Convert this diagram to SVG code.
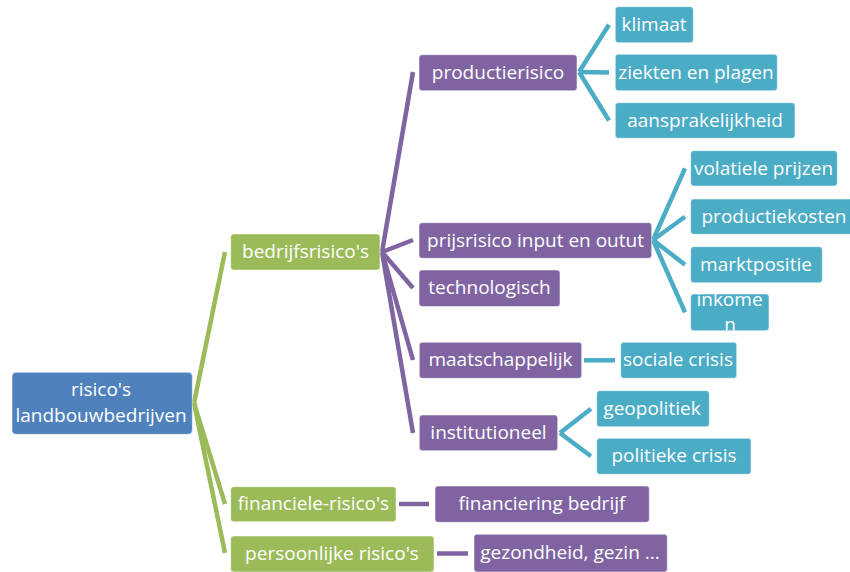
<svg xmlns="http://www.w3.org/2000/svg" width="850" height="572" viewBox="0 0 850 572">
  <style>
    .box { stroke: #ffffff; stroke-opacity: 0.5; stroke-width: 1; }
    .root { fill: #4F81BD; }
    .l1 { fill: #9BBB59; }
    .l2 { fill: #8064A2; }
    .l3 { fill: #4BACC6; }
    text { font-family: "Open Sans", "Noto Sans", "DejaVu Sans", sans-serif; font-size: 19px; fill: #ffffff; text-anchor: middle; }
    .c-green { stroke: #9BBB59; stroke-width: 4.5; fill: none; }
    .c-purple { stroke: #8064A2; stroke-width: 4.5; fill: none; }
    .c-cyan { stroke: #4BACC6; stroke-width: 4.5; fill: none; }
  </style>
  <defs>
    <clipPath id="clip-inkomen">
      <rect x="691" y="294" width="78" height="36.7"/>
    </clipPath>
  </defs>
  <rect width="850" height="572" fill="#ffffff"/>

  <!-- connectors -->
  <g id="connectors">
    <!-- root to level 1 -->
    <line class="c-green" x1="194" y1="403" x2="225" y2="252"/>
    <line class="c-green" x1="194" y1="403" x2="225" y2="504"/>
    <line class="c-green" x1="194" y1="403" x2="225" y2="553"/>
    <!-- bedrijfsrisico's to level 2 -->
    <line class="c-purple" x1="382" y1="252" x2="413" y2="72"/>
    <line class="c-purple" x1="382" y1="252" x2="413" y2="240"/>
    <line class="c-purple" x1="382" y1="252" x2="413" y2="288"/>
    <line class="c-purple" x1="382" y1="252" x2="413" y2="360"/>
    <line class="c-purple" x1="382" y1="252" x2="413" y2="433"/>
    <!-- other level 1 -->
    <line class="c-purple" x1="399" y1="504" x2="429" y2="504"/>
    <line class="c-purple" x1="437" y1="553.5" x2="468" y2="553.5"/>
    <!-- productierisico -->
    <line class="c-cyan" x1="579" y1="72" x2="609" y2="24.7"/>
    <line class="c-cyan" x1="579" y1="72" x2="609" y2="72.5"/>
    <line class="c-cyan" x1="579" y1="72" x2="609" y2="120.5"/>
    <!-- prijsrisico -->
    <line class="c-cyan" x1="653" y1="240" x2="685" y2="168.3"/>
    <line class="c-cyan" x1="653" y1="240" x2="685" y2="216.7"/>
    <line class="c-cyan" x1="653" y1="240" x2="685" y2="264.7"/>
    <line class="c-cyan" x1="653" y1="240" x2="685" y2="312.3"/>
    <!-- maatschappelijk -->
    <line class="c-cyan" x1="584" y1="360.3" x2="615" y2="360.3"/>
    <!-- institutioneel -->
    <line class="c-cyan" x1="560" y1="433" x2="591" y2="408.7"/>
    <line class="c-cyan" x1="560" y1="433" x2="591" y2="456.3"/>
  </g>

  <!-- root -->
  <g id="node-root">
    <rect class="box root" x="12" y="372.3" width="180.3" height="62" rx="4"/>
    <text x="101" y="396">risico's</text>
    <text x="101" y="422.3">landbouwbedrijven</text>
  </g>

  <!-- level 1 -->
  <g id="node-bedrijfsrisicos">
    <rect class="box l1" x="230.7" y="234" width="149.3" height="36" rx="3"/>
    <text x="305.5" y="258">bedrijfsrisico's</text>
  </g>
  <g id="node-financiele-risicos">
    <rect class="box l1" x="230.7" y="486.7" width="165.3" height="35" rx="3"/>
    <text x="313.5" y="510">financiele-risico's</text>
  </g>
  <g id="node-persoonlijke-risicos">
    <rect class="box l1" x="230.7" y="536" width="203.3" height="36" rx="3"/>
    <text x="332" y="559.5">persoonlijke risico's</text>
  </g>

  <!-- level 2 -->
  <g id="node-productierisico">
    <rect class="box l2" x="419" y="54.7" width="158" height="36" rx="3"/>
    <text x="498" y="78.7">productierisico</text>
  </g>
  <g id="node-prijsrisico">
    <rect class="box l2" x="419" y="222.7" width="232.7" height="35.6" rx="3"/>
    <text x="535.5" y="246.5">prijsrisico input en outut</text>
  </g>
  <g id="node-technologisch">
    <rect class="box l2" x="419" y="270" width="141" height="36.5" rx="3"/>
    <text x="489.5" y="294.3">technologisch</text>
  </g>
  <g id="node-maatschappelijk">
    <rect class="box l2" x="419.3" y="342.3" width="162.4" height="36" rx="3"/>
    <text x="500.5" y="366.3">maatschappelijk</text>
  </g>
  <g id="node-institutioneel">
    <rect class="box l2" x="419.3" y="415" width="138.4" height="35.7" rx="3"/>
    <text x="488.5" y="439">institutioneel</text>
  </g>
  <g id="node-financiering-bedrijf">
    <rect class="box l2" x="435" y="486" width="214.3" height="36.3" rx="3"/>
    <text x="542" y="510">financiering bedrijf</text>
  </g>
  <g id="node-gezondheid">
    <rect class="box l2" x="474" y="534.3" width="193.3" height="37.7" rx="3"/>
    <text x="570" y="559">gezondheid, gezin ...</text>
  </g>

  <!-- level 3 -->
  <g id="node-klimaat">
    <rect class="box l3" x="615.3" y="6.7" width="78" height="36" rx="3"/>
    <text x="654" y="30.7">klimaat</text>
  </g>
  <g id="node-ziekten">
    <rect class="box l3" x="615.3" y="54.3" width="162" height="36.4" rx="3"/>
    <text x="696" y="78.5">ziekten en plagen</text>
  </g>
  <g id="node-aansprakelijkheid">
    <rect class="box l3" x="615.3" y="102.7" width="179.7" height="35.6" rx="3"/>
    <text x="705" y="126.7">aansprakelijkheid</text>
  </g>
  <g id="node-volatiele-prijzen">
    <rect class="box l3" x="690.7" y="150.7" width="146.6" height="35.3" rx="3"/>
    <text x="763.5" y="174.5">volatiele prijzen</text>
  </g>
  <g id="node-productiekosten">
    <rect class="box l3" x="690.7" y="199" width="162" height="35.3" rx="3"/>
    <text x="774" y="223">productiekosten</text>
  </g>
  <g id="node-marktpositie">
    <rect class="box l3" x="690.7" y="246.7" width="131.6" height="36" rx="3"/>
    <text x="756" y="270.7">marktpositie</text>
  </g>
  <g id="node-inkomen">
    <rect class="box l3" x="690.7" y="294" width="78.3" height="36.7" rx="3"/>
    <g clip-path="url(#clip-inkomen)">
      <text x="729.5" y="305.7">inkome</text>
      <text x="730" y="330.7">n</text>
    </g>
  </g>
  <g id="node-sociale-crisis">
    <rect class="box l3" x="620.7" y="342.3" width="116" height="36" rx="3"/>
    <text x="678" y="366.3">sociale crisis</text>
  </g>
  <g id="node-geopolitiek">
    <rect class="box l3" x="596.7" y="390.7" width="112.6" height="36" rx="3"/>
    <text x="652" y="414.5">geopolitiek</text>
  </g>
  <g id="node-politieke-crisis">
    <rect class="box l3" x="596.7" y="438.3" width="154.3" height="36" rx="3"/>
    <text x="674" y="462.3">politieke crisis</text>
  </g>
</svg>
